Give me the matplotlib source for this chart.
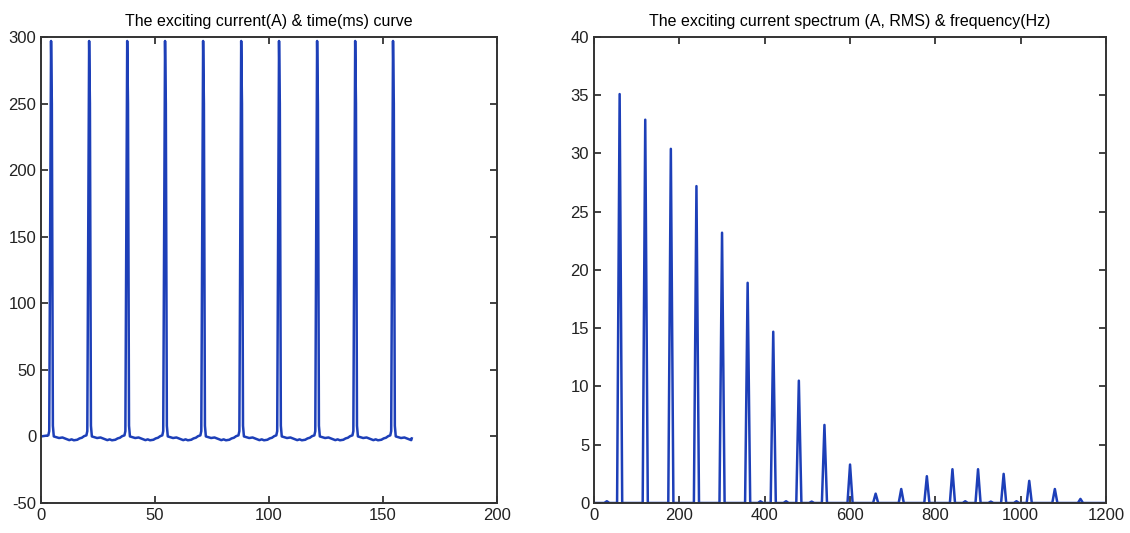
import numpy as np
import matplotlib
matplotlib.use("Agg")
import matplotlib.pyplot as plt

plt.rcParams["font.family"] = ["Liberation Sans", "DejaVu Sans"]
plt.rcParams["axes.unicode_minus"] = False

# ===================== 資料 =====================
# left: exciting current, pulses every ~16.7 ms
pulse_times = [4.4, 21.1, 37.8, 54.4, 71.1, 87.8, 104.4, 121.1, 137.8, 154.4]
end_time = 162.6
# shape of one pulse around its peak (offset ms, current A)
pulse_offsets = [-1.2, -0.8, 0.0, 0.35, 0.8, 1.2]
pulse_values = [0.8, 4.0, 297.0, 250.0, 8.0, 0.0]
# baseline between pulses (offset from peak, ms)
base_offsets = [2.2, 3.5, 5.0, 6.5, 8.0, 9.0, 10.0, 11.5, 12.5, 13.5, 14.5, 15.4]
base_values = [-0.5, -1.2, -0.8, -1.8, -2.8, -2.2, -2.9, -2.5, -1.5, -1.0, 0.2, 0.8]
start_value = 0.0

# right: spectrum lines (Hz, A RMS)
harm_freqs = [60, 120, 180, 240, 300, 360, 420, 480, 540, 600,
              660, 720, 780, 840, 900, 960, 1020, 1080, 1140]
harm_amps = [35.1, 32.9, 30.4, 27.2, 23.2, 18.9, 14.7, 10.5, 6.7, 3.3,
             0.8, 1.2, 2.3, 2.9, 2.9, 2.5, 1.9, 1.2, 0.35]
minor_freqs = [30, 390, 450, 510, 870, 930, 990]
minor_amps = [0.15, 0.15, 0.15, 0.12, 0.15, 0.12, 0.15]
freq_step = 6

# ===================== 組合曲線 =====================
t = [0.0]
i_ex = [start_value]
for k, tp in enumerate(pulse_times):
    for o, v in zip(pulse_offsets, pulse_values):
        t.append(tp + o)
        i_ex.append(v)
    for o, v in zip(base_offsets, base_values):
        if tp + o > end_time:
            break
        t.append(tp + o)
        i_ex.append(v)
if t[-1] < end_time:
    t.append(end_time)
    i_ex.append(-1.5)

freqs = np.arange(0, 1200 + freq_step, freq_step)
spec = np.zeros(len(freqs))
for f, a in zip(harm_freqs + minor_freqs, harm_amps + minor_amps):
    spec[int(round(f / freq_step))] = a

# ===================== 繪圖 =====================
line_color = "#1d3fb8"
fig = plt.figure(figsize=(11.3, 5.33), dpi=100)
ax1 = fig.add_axes([0.0363, 0.0563, 0.4035, 0.8743])
ax2 = fig.add_axes([0.5257, 0.0563, 0.4531, 0.8743])

ax1.plot(t, i_ex, color=line_color, lw=1.8)
ax1.set_xlim(0, 200)
ax1.set_ylim(-50, 300)
ax1.set_xticks(range(0, 201, 50))
ax1.set_yticks(range(-50, 301, 50))
ax1.set_title("The exciting current(A) & time(ms) curve", fontsize=11.5, pad=8)

ax2.plot(freqs, spec, color=line_color, lw=1.8)
ax2.set_xlim(0, 1200)
ax2.set_ylim(0, 40)
ax2.set_xticks(range(0, 1201, 200))
ax2.set_yticks(range(0, 41, 5))
ax2.set_title("The exciting current spectrum (A, RMS) & frequency(Hz)", fontsize=11.5, pad=8)

for ax in (ax1, ax2):
    ax.tick_params(direction="in", top=True, right=True, length=5, width=1.2,
                   labelsize=12, colors="#222222")
    for s in ax.spines.values():
        s.set_linewidth(1.4)
        s.set_color("#333333")

fig.savefig("out.png", dpi=100)
